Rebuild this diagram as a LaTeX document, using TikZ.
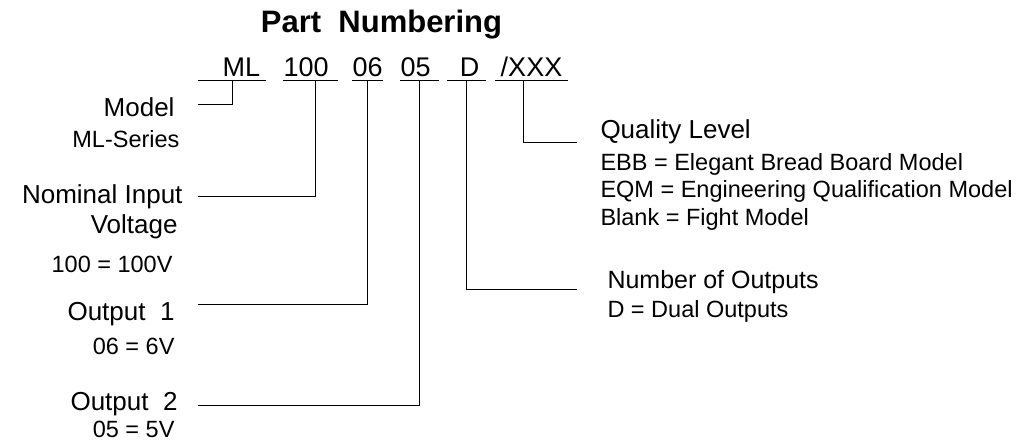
\documentclass[tikz,border=0pt]{standalone}
\usepackage{fontspec}
\setmainfont{Liberation Sans}
\usetikzlibrary{positioning}

\begin{document}
\begin{tikzpicture}[x=1pt, y=-1pt, line width=1pt,
  code/.style={font=\fontsize{27}{30}\selectfont, inner sep=0pt, text depth=4pt, anchor=base west},
  head/.style={font=\fontsize{26}{30}\selectfont, inner sep=0pt},
  info/.style={font=\fontsize{23.5}{28}\selectfont, inner sep=0pt},
  lead/.style={line width=1pt}]
  \useasboundingbox (0,0) rectangle (1021,442);
  \node[font=\fontsize{31}{34}\selectfont\bfseries, inner sep=0pt, anchor=base] (title) at (381.5,32) {Part\ \ Numbering};
  % the part code
  \node[code, minimum width=67pt] (cml) at (198,76) {\hspace*{19pt}ML};
  \node[code, minimum width=54pt] (c100) at (283,76) {100\hspace*{9pt}};
  \node[code, minimum width=28pt] (c06) at (352,76) {06};
  \node[code, minimum width=38pt] (c05) at (400,76) {05\hspace*{8pt}};
  \node[code, minimum width=38pt] (cd) at (447,76) {\hspace*{6pt}D};
  \node[code, minimum width=72pt] (cxxx) at (495,76) {/XXX};
  \foreach \c in {cml,c100,c06,c05,cd,cxxx}
    \draw (\c.south west) -- (\c.south east);
  % left column
  \node[head, anchor=base east] (model) at (175,116) {Model};
  \node[info, anchor=base east] (mlser) at (180,147) {ML-Series};
  \node[head, anchor=base east] (nominal) at (183,203) {Nominal Input};
  \node[head, anchor=base east] (voltage) at (178,233) {Voltage};
  \node[info, anchor=base east] (v100) at (173,272) {100 = 100V};
  \node[head, anchor=base east] (out1) at (175,320) {Output\ \ 1};
  \node[info, anchor=base east] (v06) at (175,354) {06 = 6V};
  \node[head, anchor=base east] (out2) at (178,410) {Output\ \ 2};
  \node[info, anchor=base east] (v05) at (175,437) {05 = 5V};
  % right column
  \node[head, anchor=base west] (qual) at (600,138) {Quality Level};
  \node[info, below=32pt of qual.base west, anchor=base west] (ebb) {EBB = Elegant Bread Board Model};
  \node[info, below=27pt of ebb.base west, anchor=base west] (eqm) {EQM = Engineering Qualification Model};
  \node[info, below=28pt of eqm.base west, anchor=base west] (blank) {Blank = Fight Model};
  \node[head, font=\fontsize{25}{30}\selectfont, anchor=base west] (nout) at (607,288) {Number of Outputs};
  \node[info, below=29pt of nout.base west, anchor=base west] (dual) {D = Dual Outputs};
  % leaders
  \draw[lead] (cml.south) |- ([xshift=23pt,yshift=12pt]model.base east);
  \draw[lead] ([xshift=5pt]c100.south) |- ([xshift=15pt,yshift=7pt]nominal.base east);
  \draw[lead] (c06.south) |- ([xshift=23pt,yshift=16pt]out1.base east);
  \draw[lead] (c05.south) |- ([xshift=20pt,yshift=5pt]out2.base east);
  \draw[lead] (cd.south) |- ([xshift=-30pt,yshift=-1pt]nout.base west);
  \draw[lead] ([xshift=-8pt]cxxx.south) |- ([xshift=-23pt,yshift=-4pt]qual.base west);
\end{tikzpicture}
\end{document}
